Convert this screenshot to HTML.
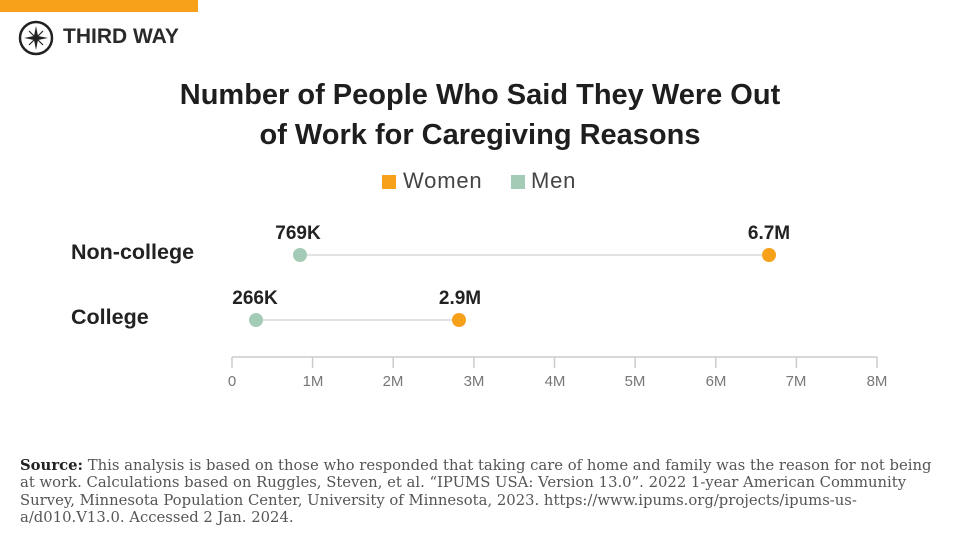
<!DOCTYPE html>
<html><head><meta charset="utf-8"><style>
body{margin:0;width:960px;height:545px;background:#fff;position:relative;overflow:hidden;font-family:"Liberation Sans",sans-serif;color:#222}
.a{position:absolute;white-space:nowrap}
.t{font-weight:bold;font-size:29px;left:0;width:960px;text-align:center;color:#1e1e1e}
.lab{font-weight:bold;font-size:21.5px;color:#222}
.v{font-weight:bold;font-size:19px;transform:translateX(-50%)}
.tk{font-size:15px;color:#777;transform:translateX(-50%)}
.src{left:20px;top:457px;width:915px;font-family:"DejaVu Serif",serif;font-size:14.8px;line-height:17.4px;color:#555;white-space:normal}
</style></head><body>
<div class="a" style="left:0;top:0;width:198px;height:12px;background:#f7a11a"></div>
<svg class="a" style="left:18px;top:20px" width="38" height="36" viewBox="0 0 38 36">
<circle cx="18" cy="18" r="16" fill="none" stroke="#222" stroke-width="2.5"/>
<path d="M18 6 L20 16 L30 18 L20 20 L18 30 L16 20 L6 18 L16 16Z" fill="#222"/>
<path d="M11 11 L25 25 M25 11 L11 25" stroke="#222" stroke-width="1.2"/>
</svg>
<div class="a" style="left:63px;top:25px;font-weight:bold;font-size:21px;color:#2a2a2a">THIRD WAY</div>
<div class="a t" style="top:79px">Number of People Who Said They Were Out</div>
<div class="a t" style="top:119px">of Work for Caregiving Reasons</div>
<div class="a" style="left:382px;top:175px;width:14px;height:14px;background:#f7a11a"></div>
<div class="a" style="left:403px;top:168px;font-size:22px;letter-spacing:0.8px;color:#444">Women</div>
<div class="a" style="left:511px;top:175px;width:14px;height:14px;background:#a3cbb5"></div>
<div class="a" style="left:531px;top:168px;font-size:22px;letter-spacing:0.8px;color:#444">Men</div>
<div class="a lab" style="left:71px;top:240px">Non-college</div>
<div class="a lab" style="left:71px;top:305px">College</div>
<svg class="a" style="left:0;top:0" width="960" height="545">
<line x1="300" y1="255" x2="769" y2="255" stroke="#e2e2e2" stroke-width="2"/>
<line x1="256" y1="320" x2="459" y2="320" stroke="#e2e2e2" stroke-width="2"/>
<circle cx="300" cy="255" r="7" fill="#a3cbb5"/>
<circle cx="769" cy="255" r="7" fill="#f7a11a"/>
<circle cx="256" cy="320" r="7" fill="#a3cbb5"/>
<circle cx="459" cy="320" r="7" fill="#f7a11a"/>
<line x1="232" y1="357" x2="877" y2="357" stroke="#ccc" stroke-width="1.5"/>
<g stroke="#ccc" stroke-width="1.5">
<line x1="232" y1="357" x2="232" y2="368"/><line x1="312.6" y1="357" x2="312.6" y2="368"/><line x1="393.2" y1="357" x2="393.2" y2="368"/><line x1="473.9" y1="357" x2="473.9" y2="368"/><line x1="554.5" y1="357" x2="554.5" y2="368"/><line x1="635.1" y1="357" x2="635.1" y2="368"/><line x1="715.8" y1="357" x2="715.8" y2="368"/><line x1="796.4" y1="357" x2="796.4" y2="368"/><line x1="877" y1="357" x2="877" y2="368"/>
</g>
</svg>
<div class="a v" style="left:298px;top:223px">769K</div>
<div class="a v" style="left:769px;top:223px">6.7M</div>
<div class="a v" style="left:255px;top:288px">266K</div>
<div class="a v" style="left:460px;top:288px">2.9M</div>
<div class="a tk" style="left:232px;top:373px">0</div>
<div class="a tk" style="left:313px;top:373px">1M</div>
<div class="a tk" style="left:393px;top:373px">2M</div>
<div class="a tk" style="left:474px;top:373px">3M</div>
<div class="a tk" style="left:555px;top:373px">4M</div>
<div class="a tk" style="left:635px;top:373px">5M</div>
<div class="a tk" style="left:716px;top:373px">6M</div>
<div class="a tk" style="left:796px;top:373px">7M</div>
<div class="a tk" style="left:877px;top:373px">8M</div>
<div class="a src"><b style="color:#222">Source:</b> This analysis is based on those who responded that taking care of home and family was the reason for not being at work. Calculations based on Ruggles, Steven, et al. “IPUMS USA: Version 13.0”. 2022 1-year American Community Survey, Minnesota Population Center, University of Minnesota, 2023. https://www.ipums.org/projects/ipums-us-a/d010.V13.0. Accessed 2 Jan. 2024.</div>
</body></html>
